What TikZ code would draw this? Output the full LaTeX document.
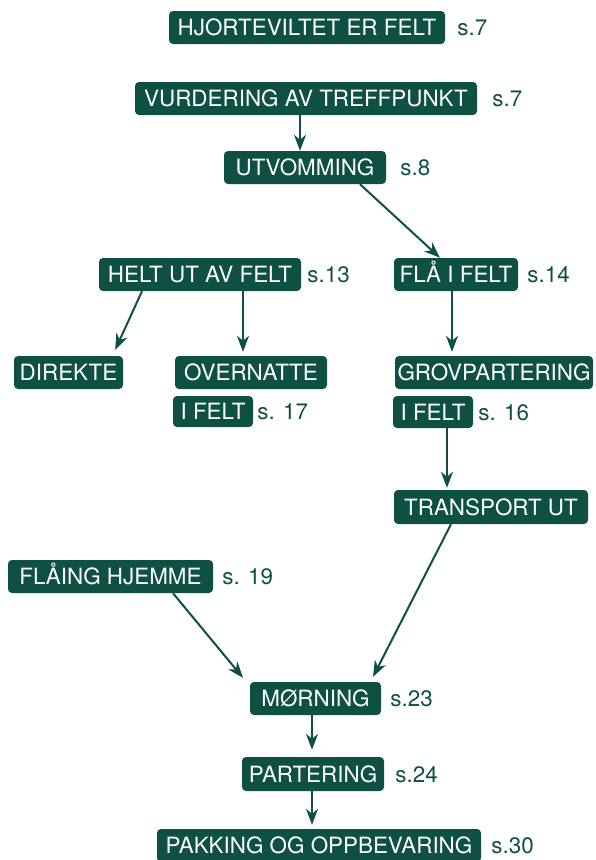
\documentclass[tikz,border=0pt]{standalone}
\usepackage{fontspec}
\setmainfont{TeX Gyre Heros}
\usepackage{tikz}
\usetikzlibrary{arrows.meta, positioning}
\definecolor{viltgreen}{RGB}{14,80,65}
\def\BoxColor{viltgreen}

\begin{document}
\begin{tikzpicture}[
    x=1pt, y=-1pt,
    every node/.style={font=\fontsize{22.4}{24}\selectfont, text height=16pt, text depth=0pt},
    rect/.style={rectangle, rounded corners=4pt, fill=\BoxColor, text=white, inner xsep=0pt, inner ysep=0pt, minimum height=33pt, minimum width=#1},
    sref/.style={inner sep=0pt, text=\BoxColor},
    arr/.style={draw=\BoxColor, line width=2pt, -{Stealth[length=16pt, width=12pt, inset=5pt]}}
]
\useasboundingbox (0,0) rectangle (596,860);

% Top nodes
\node[rect=276pt] (hjortevilt) at (307,27.5) {HJORTEVILTET ER FELT};
\node[sref, right=12pt of hjortevilt] (hjortPage) {s.7};
\node[rect=342pt] (vurdering) at (306,98.5) {VURDERING AV TREFFPUNKT};
\node[sref, right=15pt of vurdering] (vurderingPage) {s.7};
\node[rect=162pt] (utvomming) at (305,167.5) {UTVOMMING};
\node[sref, right=14pt of utvomming] (utvommingPage) {s.8};

% Left branch
\node[rect=202pt] (heltUt) at (200,274.5) {HELT UT AV FELT};
\node[sref, right=6pt of heltUt] (heltUtPage) {s.13};
\node[rect=109pt] (direkte) at (68.5,372.5) {DIREKTE};
\node[rect=152pt] (overnatte) at (251,372.5) {OVERNATTE\hspace{8pt}};
\node[rect=80pt, minimum height=31pt] (overnatteFelt) at (213,411.5) {I FELT};
\node[sref, right=4pt of overnatteFelt] (overnattePage) {s. 17};

% Right branch
\node[rect=124pt] (flaaFelt) at (456,274.5) {FLÅ I FELT};
\node[sref, right=9pt of flaaFelt] (flaaPage) {s.14};
\node[rect=198pt] (grovpartering) at (494,372.5) {GROVPARTERING};
\node[rect=80pt, minimum height=32pt] (grovFelt) at (433,412) {I FELT};
\node[sref, right=5pt of grovFelt] (grovPage) {s. 16};
\node[rect=194pt, minimum height=34pt] (transportUt) at (491,507) {TRANSPORT UT};

% Bottom nodes
\node[rect=205pt] (flaaingHjemme) at (110.5,576.5) {FLÅING HJEMME};
\node[sref, right=9pt of flaaingHjemme] (flaaingPage) {s. 19};
\node[rect=131pt] (morning) at (315.5,698.5) {MØRNING};
\node[sref, right=9pt of morning] (morningPage) {s.23};
\node[rect=142pt, minimum height=34pt] (partering) at (313,774) {PARTERING};
\node[sref, right=11pt of partering] (parteringPage) {s.24};
\node[rect=324pt] (pakking) at (319,845.5) {PAKKING OG OPPBEVARING};
\node[sref, right=10pt of pakking] (pakkingPage) {s.30};

% Edges
\draw[arr] ([xshift=-6pt]vurdering.south) -- ([xshift=-5pt]utvomming.north);
\draw[arr] ([xshift=55pt]utvomming.south) -- ([xshift=-16pt]flaaFelt.north);
\draw[arr] ([xshift=-58pt]heltUt.south) -- ([xshift=-8pt,yshift=6pt]direkte.north east);
\draw[arr] ([xshift=43pt]heltUt.south) -- ([xshift=-8pt,yshift=4pt]overnatte.north);
\draw[arr] ([xshift=-4pt]flaaFelt.south) -- ([xshift=-42pt,yshift=4pt]grovpartering.north);
\draw[arr] ([xshift=14pt]grovFelt.south) -- ([xshift=-44pt,yshift=2pt]transportUt.north);
\draw[arr] ([xshift=-40pt]transportUt.south) -- ([xshift=57.5pt,yshift=5pt]morning.north);
\draw[arr] ([xshift=62.5pt]flaaingHjemme.south) -- ([xshift=-72.5pt,yshift=4pt]morning.north);
\draw[arr] ([xshift=-3.5pt]morning.south) -- ([xshift=-1pt,yshift=7pt]partering.north);
\draw[arr] ([xshift=-1pt]partering.south) -- ([xshift=-7pt,yshift=4pt]pakking.north);
\end{tikzpicture}
\end{document}
